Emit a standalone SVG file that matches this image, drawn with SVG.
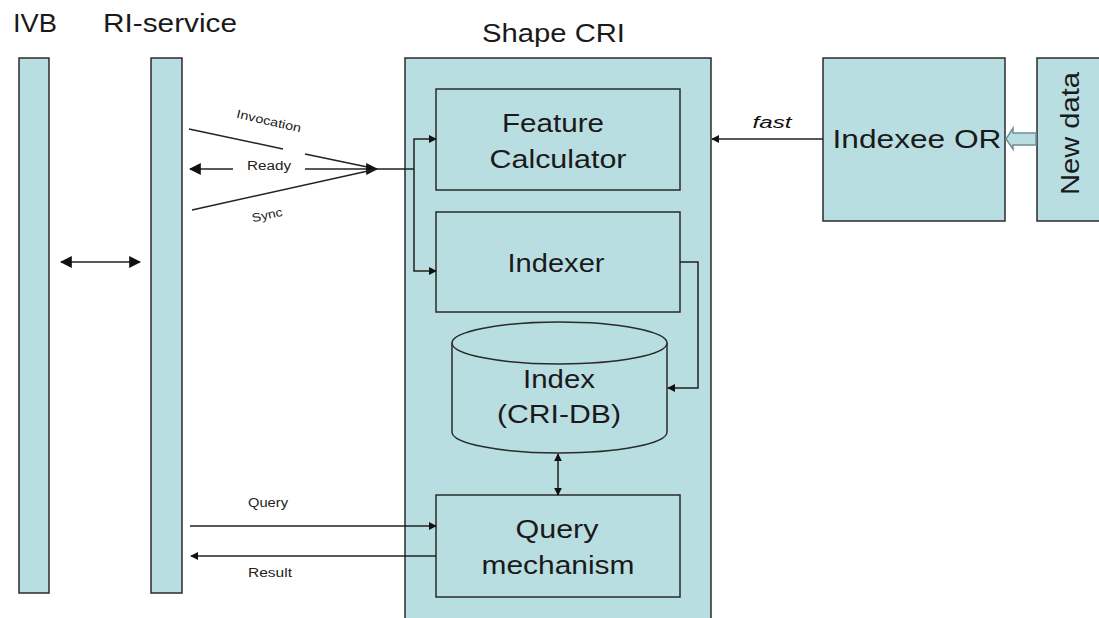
<svg xmlns="http://www.w3.org/2000/svg" width="1099" height="618" viewBox="0 0 1099 618">
  <style>
    .box { fill: #b9dee2; stroke: #2b2b2b; stroke-width: 1.5; }
    .ln { fill: none; stroke: #222; stroke-width: 1.5; }
    .big { font-family: "Liberation Sans", Arial, sans-serif; font-size: 25px; fill: #1a1a1a; text-anchor: middle; }
    .hdr { font-family: "Liberation Sans", Arial, sans-serif; font-size: 25px; fill: #1a1a1a; }
    .small { font-family: "Liberation Sans", Arial, sans-serif; font-size: 12px; fill: #222; text-anchor: middle; }
  </style>
  <defs>
    <marker id="ah" viewBox="0 0 10 10" refX="9" refY="5" markerWidth="8" markerHeight="8" markerUnits="userSpaceOnUse" orient="auto-start-reverse">
      <path d="M0,0 L10,5 L0,10 z" fill="#111"/>
    </marker>
    <marker id="ahb" viewBox="0 0 10 10" refX="9" refY="5" markerWidth="12" markerHeight="12" markerUnits="userSpaceOnUse" orient="auto-start-reverse">
      <path d="M0,0 L10,5 L0,10 z" fill="#111"/>
    </marker>
  </defs>
  <rect width="1099" height="618" fill="#ffffff"/>

  <!-- column headers -->
  <text class="hdr" x="13" y="32" textLength="44" lengthAdjust="spacingAndGlyphs">IVB</text>
  <text class="hdr" x="103" y="32" textLength="134" lengthAdjust="spacingAndGlyphs">RI-service</text>
  <text class="hdr" x="482" y="42" textLength="143" lengthAdjust="spacingAndGlyphs">Shape CRI</text>

  <g id="ivb">
    <rect class="box" x="19" y="58" width="30" height="535"/>
  </g>
  <g id="ri-service">
    <rect class="box" x="151" y="58" width="31" height="535"/>
  </g>
  <g id="shape-cri">
    <rect class="box" x="405" y="58" width="306" height="570"/>
  </g>
  <g id="feature-calculator">
    <rect class="box" x="436" y="89" width="244" height="101"/>
    <text class="big" x="553" y="132" textLength="102" lengthAdjust="spacingAndGlyphs">Feature</text>
    <text class="big" x="558" y="168" textLength="137" lengthAdjust="spacingAndGlyphs">Calculator</text>
  </g>
  <g id="indexer">
    <rect class="box" x="436" y="212" width="244" height="100"/>
    <text class="big" x="556" y="272" textLength="97" lengthAdjust="spacingAndGlyphs">Indexer</text>
  </g>
  <g id="index-db">
    <path class="box" d="M452,343 L452,432 A107.5,21 0 0 0 667,432 L667,343"/>
    <ellipse class="box" cx="559.5" cy="343" rx="107.5" ry="21"/>
    <text class="big" x="559" y="388" textLength="72" lengthAdjust="spacingAndGlyphs">Index</text>
    <text class="big" x="559" y="423" textLength="124" lengthAdjust="spacingAndGlyphs">(CRI-DB)</text>
  </g>
  <g id="query-mechanism">
    <rect class="box" x="436" y="495" width="244" height="102"/>
    <text class="big" x="557" y="538" textLength="83" lengthAdjust="spacingAndGlyphs">Query</text>
    <text class="big" x="558" y="574" textLength="153" lengthAdjust="spacingAndGlyphs">mechanism</text>
  </g>
  <g id="indexee-or">
    <rect class="box" x="823" y="58" width="182" height="163"/>
    <text class="big" x="917" y="148" textLength="169" lengthAdjust="spacingAndGlyphs">Indexee OR</text>
  </g>
  <g id="new-data">
    <rect class="box" x="1037" y="58" width="70" height="163"/>
    <text class="big" transform="translate(1079,133.5) rotate(-90)" textLength="123" lengthAdjust="spacingAndGlyphs">New data</text>
  </g>

  <g id="connectors">
    <!-- IVB <-> RI-service -->
    <line class="ln" x1="61" y1="262" x2="140" y2="262" marker-start="url(#ahb)" marker-end="url(#ahb)"/>

    <!-- invocation / ready / sync fan -->
    <line class="ln" x1="189" y1="129" x2="283" y2="149"/>
    <line class="ln" x1="305" y1="154" x2="377" y2="169"/>
    <line class="ln" x1="305" y1="169" x2="377" y2="169" marker-end="url(#ahb)"/>
    <line class="ln" x1="233" y1="169" x2="190" y2="169" marker-end="url(#ahb)"/>
    <line class="ln" x1="192" y1="210" x2="377" y2="169"/>
    <text class="small" transform="translate(268,125) rotate(13)" textLength="66" lengthAdjust="spacingAndGlyphs">Invocation</text>
    <text class="small" x="269" y="170" textLength="44" lengthAdjust="spacingAndGlyphs">Ready</text>
    <text class="small" transform="translate(268,219) rotate(-12)" textLength="31" lengthAdjust="spacingAndGlyphs">Sync</text>

    <!-- split to feature calculator and indexer -->
    <polyline class="ln" points="377,169 414,169 414,139 436,139" marker-end="url(#ah)"/>
    <polyline class="ln" points="414,169 414,271 436,271" marker-end="url(#ah)"/>

    <!-- indexer to index -->
    <polyline class="ln" points="680,262 698,262 698,388 668,388" marker-end="url(#ah)"/>

    <!-- index <-> query mechanism -->
    <line class="ln" x1="558" y1="454" x2="558" y2="495" marker-start="url(#ah)" marker-end="url(#ah)"/>

    <!-- query / result -->
    <line class="ln" x1="190" y1="526" x2="436" y2="526" marker-end="url(#ah)"/>
    <text class="small" x="268" y="507" textLength="40" lengthAdjust="spacingAndGlyphs">Query</text>
    <line class="ln" x1="436" y1="556" x2="191" y2="556" marker-end="url(#ah)"/>
    <text class="small" x="270" y="577" textLength="44" lengthAdjust="spacingAndGlyphs">Result</text>

    <!-- fast -->
    <line class="ln" x1="823" y1="139" x2="712" y2="139" marker-end="url(#ah)"/>
    <text x="772" y="128" text-anchor="middle" font-family="Liberation Sans, Arial, sans-serif" font-size="16" font-style="italic" fill="#111" textLength="39" lengthAdjust="spacingAndGlyphs">fast</text>

    <!-- new data block arrow -->
    <path d="M1036,133 L1013,133 L1013,128 L1006,139 L1013,149 L1013,145 L1036,145 Z" fill="#b9dee2" stroke="#6f8f93" stroke-width="1.5"/>
  </g>
</svg>
